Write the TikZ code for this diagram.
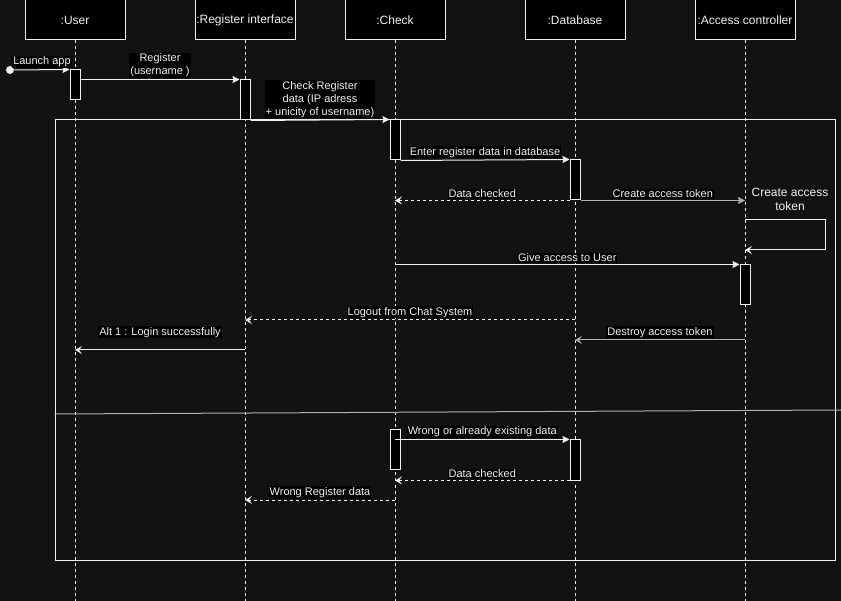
\documentclass[tikz,border=0pt]{standalone}
\usepackage{fontspec}
\setmainfont{Liberation Sans}
\usetikzlibrary{arrows.meta}
\definecolor{bg}{RGB}{18,18,18}
\definecolor{fg}{RGB}{240,240,240}
\definecolor{dim}{RGB}{175,175,175}
\tikzset{
	every path/.style={line width=1pt},
	lifehead/.style={
		draw=fg,
		fill=black,
		text=fg,
		inner sep=0pt,
		minimum width=100pt,
		minimum height=40pt,
		font=\fontsize{12}{14}\selectfont,
	},
	actbox/.style={
		draw=fg,
		fill=black,
		minimum width=10pt,
		inner sep=0pt,
	},
	lifeline/.style={
		draw=fg,
		line width=0.8pt,
		dash pattern=on 3pt off 3pt,
	},
	sync/.style={
		draw=fg,
		-{Stealth[length=7pt,width=7pt,inset=1pt]},
	},
	ret/.style={
		draw=fg,
		dash pattern=on 3pt off 3pt,
		-{Stealth[length=7pt,width=8pt,inset=3pt]},
	},
	retsolid/.style={
		draw=fg,
		-{Stealth[length=7pt,width=8pt,inset=3pt]},
	},
	lbl/.style={
		fill=black,
		text=fg,
		inner sep=1pt,
		align=center,
		font=\fontsize{11}{13}\selectfont,
	},
}

\begin{document}
\begin{tikzpicture}[x=1pt,y=-1pt]
	\fill[bg] (0,0) rectangle (841,601);
	\useasboundingbox (0,0) rectangle (841,601);

	% lifelines
	\node[lifehead] (user)  at (75,20)  {:User};
	\node[lifehead] (reg)   at (245,20) {:Register interface};
	\node[lifehead] (check) at (395,20) {:Check};
	\node[lifehead] (db)    at (575,20) {:Database};
	\node[lifehead] (acc)   at (745,20) {:Access controller};
	\foreach \n in {user,reg,check,db,acc}
		\draw[lifeline] (\n.south) -- (\n |- 0,601);

	% alt frame
	\node[draw=fg, inner sep=0pt, minimum width=780pt, minimum height=440pt] (alt) at (445,340) {};
	\coordinate (sepend) at (841,410);
	\draw[draw=dim] (alt.west |- 0,414) -- (sepend);

	% activations
	\node[actbox, minimum height=30pt] (a1) at (75,85)  {};
	\node[actbox, minimum height=40pt] (a2) at (245,100) {};
	\node[actbox, minimum height=40pt] (a3) at (395,140) {};
	\node[actbox, minimum height=40pt] (a4) at (575,180) {};
	\node[actbox, minimum height=40pt] (a5) at (745,285) {};
	\node[actbox, minimum height=40pt] (a6) at (395,450) {};
	\node[actbox, minimum height=40pt] (a7) at (575,460) {};

	\node[circle, fill=fg, inner sep=0pt, minimum size=8pt] (start) at (10,70) {};
	\draw[sync] (start) -- node[lbl, above=1pt] {Launch app} (a1.north west);
	\draw[sync] (a1.east |- a2.north) -- node[lbl, above=1pt] {Register\\(username )} (a2.north west);
	\draw[sync] (a2.south east) -- node[lbl, above=1pt] {Check Register\\data (IP adress\\+ unicity of username)} (a3.north west);
	\draw[sync] (a3.south east) -- node[lbl, above=1pt] {Enter register data in database} (a4.north west);
	\draw[ret] (a4.south west) -- node[lbl, above=1pt] {Data checked} (a4.south west -| check);
	\draw[sync, draw=dim] (a4.south east) -- node[lbl, above=1pt] {Create access token} (a4.south east -| acc);

	\node[text=fg, align=center, font=\fontsize{12}{14}\selectfont] (tokennote) at (790,199) {Create access\\token};
	\draw[retsolid] (acc |- 0,220) -- ++(80,0) -- ++(0,30) -- ++(-80,0);

	\draw[sync] (a5.north west -| check) -- node[lbl, above=1pt] {Give access to User} (a5.north west);
	\draw[ret] (db |- 0,320) -- node[lbl, above=1pt] {Logout from Chat System} (reg |- 0,320);
	\draw[retsolid, draw=dim] (acc |- 0,340) -- node[lbl, above=1pt] {Destroy access token} (db |- 0,340);
	\draw[retsolid] (reg |- 0,350) -- node[lbl, above=11pt] {Alt 1 : Login successfully} (user |- 0,350);

	\draw[sync] (a7.north west -| check) -- node[lbl, above=1pt] {Wrong or already existing data} (a7.north west);
	\draw[ret] (a7.south west) -- node[lbl, above=1pt] {Data checked} (a7.south west -| check);
	\draw[ret] (check |- 0,500) -- node[lbl, above=1pt] {Wrong Register data} (reg |- 0,500);
\end{tikzpicture}
\end{document}
